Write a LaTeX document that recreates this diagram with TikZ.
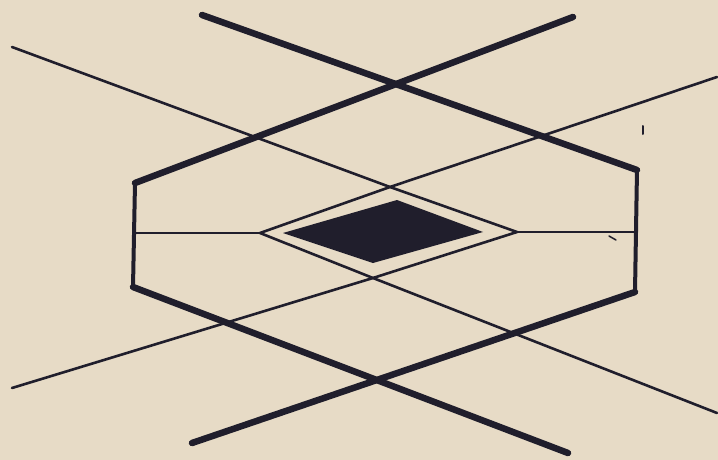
\documentclass[tikz,border=0pt]{standalone}
\usepackage{tikz}

\definecolor{paper}{RGB}{231,219,198}
\definecolor{ink}{RGB}{32,30,44}

\begin{document}
\begin{tikzpicture}[
  x=1pt, y=-1pt,
  bar/.style={ink, line width=6.5pt, line cap=round},
  post/.style={ink, line width=4pt, line cap=round},
  hair/.style={ink, line width=2.6pt, line cap=round}
]
% paper
\fill[paper] (0,0) rectangle (718,460);
\useasboundingbox (0,0) rectangle (718,460);

% hexagon corners
\coordinate (hexNW) at (135,183);
\coordinate (hexNE) at (637,170);
\coordinate (hexSW) at (133,287);
\coordinate (hexSE) at (635,292);

% outer diamond
\coordinate (dmTop) at (390,187);
\coordinate (dmBot) at (373,278);
\coordinate (dmL) at (260,233);
\coordinate (dmR) at (517,232);

% free ends
\coordinate (endA) at (202,15);
\coordinate (endB) at (573,17);
\coordinate (endC) at (568,453);
\coordinate (endD) at (192,443);
\coordinate (endNW) at (12,47);
\coordinate (endNE) at (717,77);
\coordinate (endSW) at (12,388);
\coordinate (endSE) at (717,413);

% thin lines through the diamond
\draw[hair] (endNW) -- (dmTop) -- (dmR);
\draw[hair] (endNE) -- (dmTop) -- (dmL);
\draw[hair] (endSW) -- (dmBot) -- (dmR);
\draw[hair] (endSE) -- (dmBot) -- (dmL);
\draw[hair] (hexNW |- dmL) -- (dmL);
\draw[hair] (dmR) -- (hexNE |- dmR);

% filled diamond
\fill[ink] (283,233) -- (397,200) -- (483,232) -- (373,263) -- cycle;

% hexagon sides
\draw[post] (hexNW) -- (hexSW);
\draw[post] (hexNE) -- (hexSE);

% thick crossing bars
\draw[bar] (endA) -- (hexNE);
\draw[bar] (endB) -- (hexNW);
\draw[bar] (hexSW) -- (endC);
\draw[bar] (hexSE) -- (endD);

% specks
\draw[ink, line width=2pt, line cap=round] (643,126) -- (643,134);
\draw[ink, line width=1.5pt, line cap=round] (609,236) -- (616,240);
\end{tikzpicture}
\end{document}
